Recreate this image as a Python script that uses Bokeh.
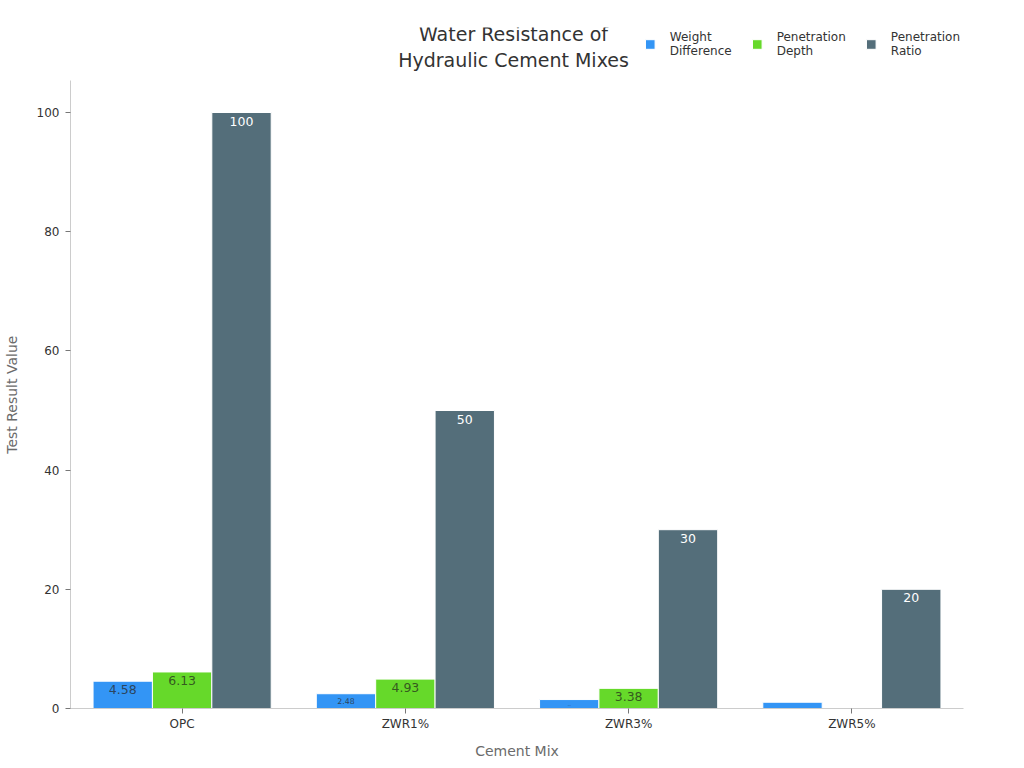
from bokeh.plotting import figure
from bokeh.models import ColumnDataSource, FactorRange, Legend, LegendItem, FixedTicker, Label
from bokeh.transform import dodge
from bokeh.core.properties import value
from bokeh.embed import file_html
from bokeh.resources import INLINE

# ---- data ----
mixes = ["OPC", "ZWR1%", "ZWR3%", "ZWR5%"]
weight_difference = [4.58, 2.48, 1.5, 1.05]
penetration_depth = [6.13, 4.93, 3.38, 0]
penetration_ratio = [100, 50, 30, 20]
series_names = ["Weight\nDifference", "Penetration\nDepth", "Penetration\nRatio"]
y_ticks = [0, 20, 40, 60, 80, 100]

# ---- style ----
FONT = "DejaVu Sans"
colors = ["#3395f5", "#66d92a", "#546e7a"]
label_colors = ["#2b3a4a", "#2f4a1e", "#ffffff"]
W, H = 1024, 768
LEFT, RIGHT, TOP, BOTTOM = 68, 61, 27, 60
frame_h = H - TOP - BOTTOM
PX_PER_UNIT = 5.96
Y_END = frame_h / PX_PER_UNIT
CAT_PX = (W - LEFT - RIGHT) / len(mixes)
offsets = [-0.266, 0.0, 0.266]
BAR_W = 0.266
AXIS_TOP = 105.4

p = figure(x_range=FactorRange(*mixes, range_padding=0), y_range=(0, Y_END),
           width=W, height=H, output_backend="svg", toolbar_location=None,
           min_border_left=LEFT, min_border_right=RIGHT, min_border_top=TOP,
           min_border_bottom=BOTTOM)
p.outline_line_color = None
p.xgrid.grid_line_color = None
p.ygrid.grid_line_color = None
p.background_fill_color = "white"

src = ColumnDataSource(dict(mix=mixes, wd=weight_difference, pd=penetration_depth, pr=penetration_ratio))
fields = ["wd", "pd", "pr"]
series_vals = [weight_difference, penetration_depth, penetration_ratio]

renderers = []
for f, off, c in zip(fields, offsets, colors):
    r = p.vbar(x=dodge("mix", off, range=p.x_range), top=f, width=BAR_W, source=src,
               fill_color=c, line_color="white", line_width=1)
    renderers.append(r)

# value labels inside the top of each bar, size shrinks with bar height
for vals, off, lc in zip(series_vals, offsets, label_colors):
    xs, ys, ts, ss = [], [], [], []
    for m, v in zip(mixes, vals):
        h_px = v * PX_PER_UNIT
        size = min(12.5, h_px - 7)
        if v <= 0 or size < 1.5:
            continue
        xs.append(m); ys.append(v); ts.append(f"{v:g}"); ss.append(f"{size:.1f}px")
    lsrc = ColumnDataSource(dict(mix=xs, y=ys, t=ts, s=ss))
    p.text(x=dodge("mix", off, range=p.x_range), y="y", text="t", source=lsrc,
           text_font=value(FONT), text_font_size="s", text_color=lc,
           text_align="center", text_baseline="top", y_offset=4,
           text_alpha=0.9 if lc != "#ffffff" else 1.0)

# axes
yax = p.yaxis[0]
yax.ticker = FixedTicker(ticks=y_ticks)
yax.bounds = (0, AXIS_TOP)
for ax in (p.xaxis[0], yax):
    ax.axis_line_color = "#cccccc"
    ax.major_tick_line_color = "#777777"
    ax.major_tick_out = 5
    ax.major_tick_in = 0
    ax.minor_tick_line_color = None
    ax.major_label_text_font = FONT
    ax.major_label_text_font_size = "12px"
    ax.major_label_text_color = "#333333"
    ax.axis_label_text_font = FONT
    ax.axis_label_text_font_size = "14px"
    ax.axis_label_text_font_style = "normal"
    ax.axis_label_text_color = "#6b6b6b"
p.xaxis[0].axis_label = "Cement Mix"
p.xaxis[0].axis_label_standoff = 9
p.xaxis[0].major_label_standoff = 3
yax.major_label_standoff = 6
# the label is centred on the frame; trailing no-break spaces move it to the middle of the axis line
yax.axis_label = "Test Result Value" + "\u00a0" * 12
yax.axis_label_standoff = 14

# title (two lines)
x_mid = (512 - LEFT) / CAT_PX
for txt, ypx in [("Water Resistance of", 33), ("Hydraulic Cement Mixes", 59)]:
    p.add_layout(Label(x=x_mid, y=(H - BOTTOM - ypx) / PX_PER_UNIT, text=txt,
                       text_font=FONT, text_font_size="19px", text_color="#333333",
                       text_align="center", text_baseline="middle"))

legend = Legend(items=[LegendItem(label=n, renderers=[r]) for n, r in zip(series_names, renderers)],
                location="top_right", orientation="horizontal",
                glyph_width=12, glyph_height=12, label_standoff=14, spacing=19,
                padding=0, margin=3, border_line_color=None, background_fill_alpha=0,
                label_text_font=FONT, label_text_font_size="12px", label_text_color="#333333",
                label_text_line_height=1.3)
p.add_layout(legend)

open("out.html", "w").write(file_html(p, INLINE))
